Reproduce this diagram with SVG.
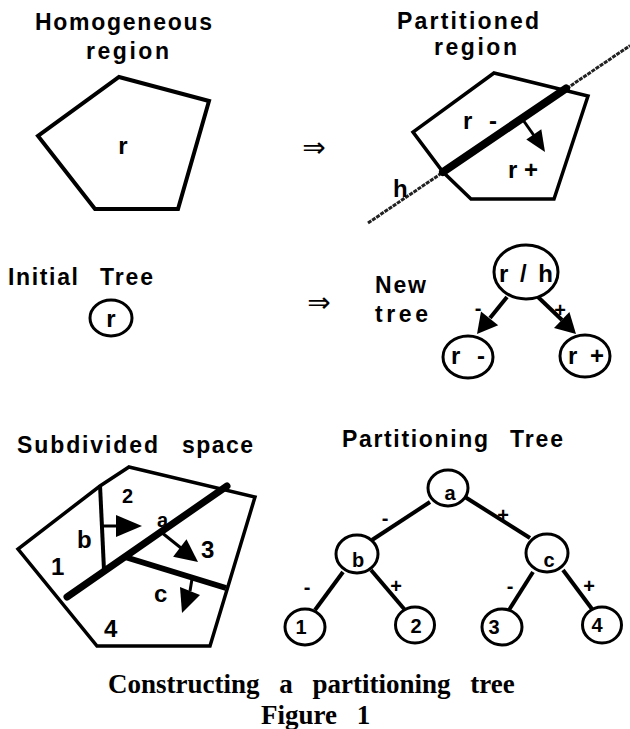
<svg xmlns="http://www.w3.org/2000/svg" width="630" height="729" viewBox="0 0 630 729">
<style>
.t{font-family:"Liberation Sans",Arial,sans-serif;font-weight:bold;fill:#000}
.title{font-size:23px}
.lbl{font-size:24px}
.sm{font-size:20px}
.sign{font-size:20px}
.cap{font-family:"Liberation Serif","Times New Roman",serif;font-weight:bold;font-size:27px;fill:#000;word-spacing:13px}
.imp{font-family:"DejaVu Sans",sans-serif;font-size:28px;fill:#000}
.poly{fill:none;stroke:#000;stroke-width:3.5;stroke-linejoin:miter}
.node{fill:#fff;stroke:#000;stroke-width:3}
.edge{stroke:#000;stroke-width:4;fill:none}
.thick{stroke:#000;stroke-linecap:round;fill:none}
.ah{fill:#000;stroke:none}
.hline{stroke:#222;stroke-width:3;stroke-dasharray:4 1;fill:none}
</style>
<rect width="630" height="729" fill="#fff"/>

<g id="homogeneous">
  <text class="t title" x="35" y="30" textLength="177">Homogeneous</text>
  <text class="t title" x="86" y="59" textLength="83">region</text>
  <polygon class="poly" style="stroke-width:4" points="119,77 209,101 178,209 95,209 38,136"/>
  <text class="t lbl" x="123" y="154" text-anchor="middle">r</text>
</g>

<g id="partitioned">
  <text class="t title" x="397" y="29" textLength="142">Partitioned</text>
  <text class="t title" x="434" y="55" textLength="83">region</text>
  <polygon class="poly" points="494,73 588,96 554,199 471,199 443,172 413,132"/>
  <line class="hline" x1="368" y1="223" x2="630" y2="45.6"/>
  <line class="thick" x1="443" y1="172" x2="566" y2="88.5" style="stroke-width:8"/>
  <text class="t lbl" x="393" y="197">h</text>
  <text class="t lbl" x="463" y="129" textLength="34">r -</text>
  <text class="t lbl" x="508" y="178" textLength="30">r +</text>
</g>

<g id="initial-tree">
  <text class="t title"><tspan x="8" y="285" textLength="70">Initial</tspan><tspan x="100" y="285" textLength="53">Tree</tspan></text>
  <ellipse class="node" cx="111" cy="318" rx="21" ry="18"/>
  <text class="t lbl" x="111" y="327" text-anchor="middle">r</text>
</g>

<g id="new-tree">
  <text class="t title" x="375" y="293" textLength="51">New</text>
  <text class="t title" x="375" y="322" textLength="53">tree</text>
  <ellipse id="node-rh" class="node" cx="526" cy="272" rx="32" ry="27"/>
  <text class="t lbl" x="526" y="282" text-anchor="middle" textLength="54">r / h</text>
  <ellipse id="node-rminus" class="node" cx="468" cy="357" rx="25" ry="21"/>
  <text class="t lbl" x="468" y="364" text-anchor="middle" textLength="34">r -</text>
  <ellipse id="node-rplus" class="node" cx="585" cy="356" rx="25" ry="21"/>
  <text class="t lbl" x="586" y="364" text-anchor="middle" textLength="36">r +</text>
</g>

<g id="subdivided">
  <text class="t title"><tspan x="17" y="453" textLength="141">Subdivided</tspan><tspan x="182" y="453" textLength="71">space</tspan></text>
  <polygon class="poly" points="129,467 255,497 210,646 97,646 18,549 100,486"/>
  <line x1="100" y1="485" x2="104" y2="570" stroke="#000" stroke-width="4"/>
  <line class="thick" x1="67" y1="597" x2="227" y2="486" style="stroke-width:7"/>
  <line x1="125" y1="557" x2="226" y2="588" stroke="#000" stroke-width="6"/>
  <text class="t sm" x="122" y="503">2</text>
  <text class="t sm" x="157" y="527">a</text>
  <text class="t lbl" x="77" y="548">b</text>
  <text class="t lbl" x="51" y="575">1</text>
  <text class="t lbl" x="201" y="558">3</text>
  <text class="t lbl" x="154" y="602">c</text>
  <text class="t lbl" x="104" y="637">4</text>
</g>

<g id="partitioning-tree">
  <text class="t title"><tspan x="342" y="447" textLength="146">Partitioning</tspan><tspan x="510" y="447" textLength="53">Tree</tspan></text>
  <ellipse id="node-a" class="node" cx="448" cy="488" rx="20" ry="18"/>
  <text class="t sm" x="450" y="500" text-anchor="middle">a</text>
  <ellipse id="node-b" class="node" cx="357" cy="554" rx="21" ry="19"/>
  <text class="t sm" x="358" y="567" text-anchor="middle">b</text>
  <ellipse id="node-c" class="node" cx="547" cy="553" rx="21" ry="19"/>
  <text class="t sm" x="549" y="567" text-anchor="middle">c</text>
  <ellipse id="node-1" class="node" cx="305" cy="627" rx="20" ry="18"/>
  <text class="t sm" x="301" y="634" text-anchor="middle">1</text>
  <ellipse id="node-2" class="node" cx="415" cy="625" rx="19.5" ry="18"/>
  <text class="t sm" x="416" y="633" text-anchor="middle">2</text>
  <ellipse id="node-3" class="node" cx="502" cy="627" rx="20" ry="18"/>
  <text class="t sm" x="494" y="634" text-anchor="middle">3</text>
  <ellipse id="node-4" class="node" cx="602" cy="625" rx="19.5" ry="18"/>
  <text class="t sm" x="597" y="632" text-anchor="middle">4</text>
</g>

<g id="connectors">
  <line class="edge" style="stroke-width:3" x1="522" y1="118.5" x2="535" y2="137"/>
  <polygon class="ah" points="545,152 541.3,129.3 526.3,139.4"/>
  <line class="edge" x1="507" y1="297" x2="490" y2="318"/>
  <polygon class="ah" points="477,334 498.2,325.3 481,311.5"/>
  <line class="edge" x1="538" y1="297" x2="562" y2="320"/>
  <polygon class="ah" points="576,334 554,327.9 569.4,312.1"/>
  <text class="t sign" x="478" y="315" text-anchor="middle">-</text>
  <text class="t sign" x="560" y="317" text-anchor="middle">+</text>
  <line class="edge" style="stroke-width:3" x1="103" y1="526" x2="117" y2="526"/>
  <polygon class="ah" points="142,526 116,515 116,537"/>
  <line class="edge" style="stroke-width:3" x1="161" y1="532" x2="181" y2="548"/>
  <polygon class="ah" points="198,562 173.1,556.7 186.5,539.3"/>
  <line class="edge" style="stroke-width:3" x1="192" y1="579" x2="190" y2="591"/>
  <polygon class="ah" points="180,587 200,595 182,613"/>
  <line class="edge" x1="430" y1="502" x2="372" y2="540"/>
  <line class="edge" x1="465" y1="497" x2="530" y2="538"/>
  <line class="edge" x1="343" y1="572" x2="315" y2="610"/>
  <line class="edge" x1="371" y1="570" x2="405" y2="610"/>
  <line class="edge" x1="533" y1="572" x2="509" y2="610"/>
  <line class="edge" x1="563" y1="570" x2="592" y2="609"/>
  <text class="t sign" x="385" y="525" text-anchor="middle">-</text>
  <text class="t sign" x="503" y="522" text-anchor="middle">+</text>
  <text class="t sign" x="307" y="594" text-anchor="middle">-</text>
  <text class="t sign" x="396" y="593" text-anchor="middle">+</text>
  <text class="t sign" x="510" y="593" text-anchor="middle">-</text>
  <text class="t sign" x="589" y="593" text-anchor="middle">+</text>
  <text class="imp" x="314" y="157" text-anchor="middle">⇒</text>
  <text class="imp" x="319" y="312" text-anchor="middle">⇒</text>
</g>

<g id="caption">
  <text class="cap" x="108" y="693">Constructing a partitioning tree</text>
  <text class="cap" x="261" y="724">Figure 1</text>
</g>
</svg>
